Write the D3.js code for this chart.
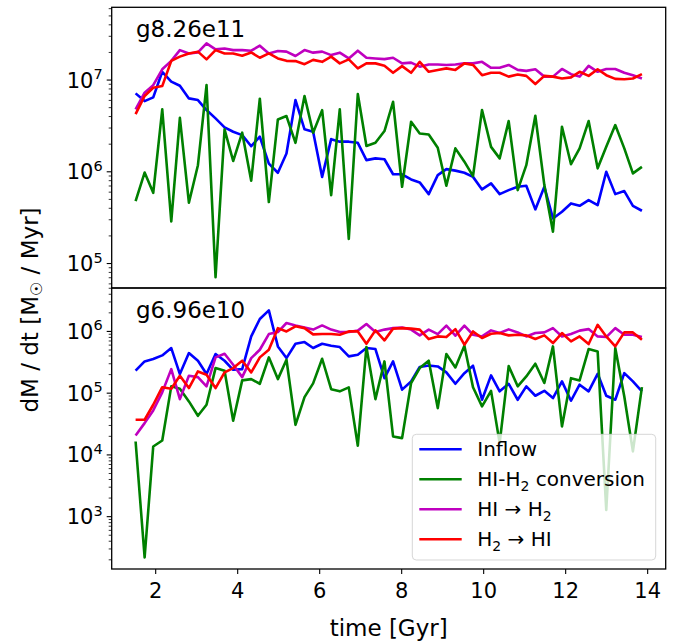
<!DOCTYPE html>
<html><head><meta charset="utf-8">
<script src="https://cdn.jsdelivr.net/npm/d3@7"></script>
<style>body{margin:0;background:#fff}</style>
</head><body><svg id="c" width="678" height="643"></svg>
<script>
const times=[1.51,1.73,1.94,2.16,2.38,2.59,2.81,3.03,3.24,3.46,
3.68,3.89,4.11,4.33,4.54,4.76,4.98,5.19,5.41,5.63,
5.84,6.06,6.28,6.49,6.71,6.93,7.14,7.36,7.58,7.79,
8.01,8.23,8.44,8.66,8.88,9.09,9.31,9.53,9.74,9.96,
10.18,10.39,10.61,10.83,11.04,11.26,11.48,11.69,11.91,12.13,
12.34,12.56,12.78,12.99,13.21,13.43,13.64,13.86];

const panelNames=["g8.26e11","g6.96e10"];
const seriesNames=["Inflow","HI-H2 conversion","HI \u2192 H2","H2 \u2192 HI"];
const seriesColors=["#0000ff","#008000","#bf00bf","#ff0000"];
const xTicks=[2,4,6,8,10,12,14];

const topInflow=[7.16e6,5.9e6,6.47e6,1.23e7,9.6e6,8.67e6,6.31e6,6.05e6,4.71e6,3.82e6,
3.05e6,2.73e6,2.51e6,1.9e6,2.41e6,1.23e6,9.76e5,1.58e6,6.05e6,2.9e6,
2.73e6,8.8e5,2.27e6,2.13e6,2.13e6,2.07e6,1.34e6,1.4e6,1.37e6,9.4e5,
9.4e5,8.26e5,7.66e5,5.71e5,9.2e5,1.07e6,1.03e6,9.76e5,8.8e5,6.42e5,
7.47e5,5.71e5,6.31e5,6.87e5,7.04e5,3.89e5,6.87e5,3.1e5,3.67e5,4.52e5,
4.26e5,4.92e5,4.33e5,1.0e6,5.71e5,6.16e5,4.26e5,3.76e5];
const topConv=[4.79e5,9.8e5,5.9e5,4.79e6,2.88e5,3.88e6,4.6e5,1.18e6,8.8e6,7.1e4,
2.9e6,1.31e6,2.67e6,8.0e5,6.26e6,4.68e5,3.72e6,4.05e6,2.07e6,6.7e6,
2.67e6,4.7e6,5.57e5,4.79e6,1.85e5,7.04e6,1.91e6,2.07e6,2.78e6,5.8e6,
6.87e5,3.51e6,2.62e6,2.55e6,1.83e6,7.04e5,1.8e6,1.29e6,8.98e5,4.71e6,
1.87e6,1.4e6,3.57e6,6.3e5,1.18e6,4.08e6,7.16e5,2.22e5,3.1e6,1.21e6,
1.8e6,3.57e6,1.09e6,1.87e6,3.23e6,1.8e6,9.6e5,1.13e6];
const topHItoH2=[4.79e6,7.28e6,8.8e6,1.31e7,1.62e7,2.12e7,1.95e7,2.0e7,2.51e7,2.16e7,
2.21e7,2.12e7,2.12e7,2.09e7,2.37e7,1.95e7,2.07e7,2.04e7,1.83e7,2.12e7,
1.99e7,2.04e7,1.87e7,1.99e7,1.72e7,2.09e7,1.75e7,1.72e7,1.69e7,1.75e7,
1.52e7,1.55e7,1.40e7,1.48e7,1.48e7,1.46e7,1.48e7,1.52e7,1.52e7,1.58e7,
1.36e7,1.36e7,1.46e7,1.29e7,1.26e7,1.31e7,1.09e7,1.09e7,1.32e7,1.16e7,
1.09e7,1.43e7,1.23e7,1.32e7,1.32e7,1.20e7,1.13e7,1.04e7];
const topH2toHI=[4.26e6,6.7e6,8.25e6,8.6e6,1.62e7,1.80e7,1.95e7,2.04e7,1.68e7,2.12e7,
1.95e7,1.95e7,1.84e7,2.0e7,1.75e7,1.95e7,1.72e7,1.62e7,1.61e7,1.49e7,
1.66e7,1.58e7,1.80e7,1.52e7,1.68e7,1.34e7,1.52e7,1.52e7,1.43e7,1.20e7,
1.42e7,1.20e7,1.58e7,1.23e7,1.29e7,1.34e7,1.29e7,1.52e7,1.46e7,1.13e7,
1.20e7,1.20e7,1.09e7,1.15e7,1.11e7,9.04e6,1.11e7,1.09e7,1.04e7,1.07e7,
1.23e7,1.11e7,1.31e7,1.13e7,1.03e7,1.02e7,1.04e7,1.16e7];

const botInflow=[2.31e5,3.27e5,3.57e5,4.09e5,5.38e5,2.04e5,4.46e5,3.35e5,2.04e5,4.3e5,
3.35e5,2.39e5,2.45e5,8.3e5,1.59e6,2.19e6,5.72e5,3.7e5,6.32e5,6.72e5,
5.38e5,6.32e5,5.87e5,5.58e5,3.94e5,4.19e5,5.38e5,5.18e5,1.75e5,3.27e5,
1.14e5,1.55e5,2.65e5,2.81e5,2.71e5,2.17e5,1.42e5,2.11e5,2.78e5,7.82e4,
1.94e5,1.07e5,1.42e5,7.82e4,1.29e5,9.08e4,1.09e5,8.32e4,1.55e5,7.54e4,
1.37e5,1.07e5,2.06e5,9.08e4,7.82e4,2.11e5,1.55e5,1.07e5];
const botConv=[1.65e4,218,1.37e4,1.71e4,1.29e5,1.18e5,7.35e4,4.3e4,6.49e4,2.55e5,
2.31e5,3.57e4,1.61e5,1.69e5,1.42e5,3.8e5,1.69e5,3.48e5,3.07e4,8.64e4,
1.44e5,3.61e5,1.16e5,1.07e5,1.24e5,1.41e4,5.58e5,8.0e4,3.27e5,1.99e4,
1.87e4,1.46e5,2.55e5,3.35e5,5.73e4,4.3e5,2.61e5,5.87e5,1.25e5,6.1e4,
1.09e5,1.55e4,2.75e5,1.29e5,1.87e5,3.0e5,1.46e5,5.72e5,2.89e4,1.75e5,
1.61e5,5.18e5,4.75e5,1.29e3,5.38e5,8.85e4,1.14e4,1.25e5];
const botHItoH2=[2.07e4,3.27e4,5.25e4,1.03e5,2.45e5,8.0e4,1.91e5,1.82e5,1.29e5,3.8e5,
4.35e5,2.88e5,1.82e5,3.7e5,5.05e5,9.06e5,9.77e5,1.37e6,1.25e6,1.16e6,
1.07e6,1.25e6,1.07e6,9.77e5,9.77e5,1.03e6,1.32e6,9.77e5,1.07e6,1.13e6,
1.16e6,1.07e6,8.63e5,1.07e6,9.06e5,1.24e6,8.52e5,1.24e6,8.84e5,8.3e5,
1.04e6,9.41e5,1.08e6,9.64e5,8.3e5,9.41e5,9.64e5,1.13e6,8.3e5,9.06e5,
1.03e6,1.09e6,8.3e5,8.1e5,1.13e6,8.84e5,8.84e5,8.1e5];
const botH2toHI=[3.71e4,3.71e4,6.49e4,1.25e5,1.18e5,1.91e5,1.21e5,2.25e5,1.99e5,1.21e5,
2.17e5,2.55e5,3.35e5,2.17e5,3.8e5,5.05e5,1.13e6,1.0e6,1.21e6,1.13e6,
8.95e5,9.06e5,9.06e5,8.84e5,1.0e6,1.0e6,6.32e5,1.04e6,7.16e5,1.11e6,
1.13e6,1.11e6,1.07e6,7.52e5,8.3e5,8.1e5,1.09e6,6.09e5,1.0e6,7.81e5,
9.18e5,9.41e5,8.63e5,8.84e5,8.63e5,7.52e5,8.63e5,6.48e5,9.41e5,6.89e5,
8.3e5,6.24e5,1.28e6,8.3e5,5.72e5,9.64e5,9.64e5,7.34e5];

const topYDomain=[5.41e4,6.21e7];
const botYDomain=[142,5.05e6];
const xDomain=[0.927,14.44];

const svg=d3.select("#c");
const FONT="DejaVu Sans, sans-serif";
const L=111.7,R=665.7;
const x=d3.scaleLinear().domain(xDomain).range([L,R]);

const panels=[
 {name:panelNames[0],top:7.3,bot:288,dom:topYDomain,data:[topInflow,topConv,topHItoH2,topH2toHI]},
 {name:panelNames[1],top:288,bot:569,dom:botYDomain,data:[botInflow,botConv,botHItoH2,botH2toHI]}
];

function sup(sel,exp){
  sel.append("tspan").text("10");
  sel.append("tspan").attr("dy",-8.5).attr("font-size",14.5).text(exp);
}

panels.forEach((p,pi)=>{
  const y=d3.scaleLog().domain(p.dom).range([p.bot,p.top]);
  const clipId="clip"+pi;
  svg.append("clipPath").attr("id",clipId).append("rect")
    .attr("x",L).attr("y",p.top).attr("width",R-L).attr("height",p.bot-p.top);
  const g=svg.append("g").attr("clip-path",`url(#${clipId})`);
  const line=d3.line().x((d,i)=>x(times[i])).y(d=>y(d));
  p.data.forEach((s,si)=>{
    g.append("path").datum(s).attr("d",line).attr("fill","none")
      .attr("stroke",seriesColors[si]).attr("stroke-width",2.6)
      .attr("stroke-linejoin","round");
  });
  const lo=Math.floor(Math.log10(p.dom[0])), hi=Math.ceil(Math.log10(p.dom[1]));
  for(let e=lo;e<=hi;e++){
    for(let m=1;m<10;m++){
      const v=m*Math.pow(10,e);
      if(v<p.dom[0]||v>p.dom[1]) continue;
      const yy=y(v);
      svg.append("line").attr("x1",L).attr("x2",L-(m===1?5:3))
        .attr("y1",yy).attr("y2",yy).attr("stroke","#000").attr("stroke-width",m===1?1.1:0.8);
      if(m===1){
        const t=svg.append("text").attr("x",L-9).attr("y",yy+7.5)
          .attr("text-anchor","end").attr("font-family",FONT).attr("font-size",21).attr("fill","#000");
        sup(t,String(e));
      }
    }
  }
  svg.append("rect").attr("x",L).attr("y",p.top).attr("width",R-L).attr("height",p.bot-p.top)
    .attr("fill","none").attr("stroke","#000").attr("stroke-width",1.3);
  svg.append("text").attr("x",136).attr("y",p.top+30).attr("font-family",FONT)
    .attr("font-size",23).attr("fill","#000").text(p.name);
});

const xb=569;
xTicks.forEach(t=>{
  svg.append("line").attr("x1",x(t)).attr("x2",x(t)).attr("y1",xb).attr("y2",xb+5)
    .attr("stroke","#000").attr("stroke-width",1.1);
  svg.append("text").attr("x",x(t)).attr("y",xb+29).attr("text-anchor","middle")
    .attr("font-family",FONT).attr("font-size",21).attr("fill","#000").text(t);
});
svg.append("text").attr("x",(L+R)/2).attr("y",636).attr("text-anchor","middle")
  .attr("font-family",FONT).attr("font-size",23).attr("fill","#000").text("time [Gyr]");

const yl=svg.append("text").attr("transform","translate(38,310) rotate(-90)")
  .attr("text-anchor","middle").attr("font-family",FONT).attr("font-size",23).attr("fill","#000");
yl.append("tspan").text("dM / dt [M");
yl.append("tspan").attr("font-size",16).attr("dy",4).text("\u2609");
yl.append("tspan").attr("dy",-4).text(" / Myr]");

const lg=svg.append("g");
lg.append("rect").attr("x",412.3).attr("y",434.3).attr("width",243.4).attr("height",125.7)
  .attr("rx",4).attr("fill","#fff").attr("fill-opacity",0.8)
  .attr("stroke","#cccccc").attr("stroke-opacity",0.8).attr("stroke-width",1);
const rowY=[449.3,479.3,509.3,539.3];
function labelParts(i){
  if(i===0) return [["Inflow",0]];
  if(i===1) return [["HI-H",0],["2",1],[" conversion",0]];
  if(i===2) return [["HI \u2192 H",0],["2",1]];
  return [["H",0],["2",1],[" \u2192 HI",0]];
}
seriesNames.forEach((n,i)=>{
  lg.append("line").attr("x1",419.3).attr("x2",461.7).attr("y1",rowY[i]).attr("y2",rowY[i])
    .attr("stroke",seriesColors[i]).attr("stroke-width",2.6);
  const t=lg.append("text").attr("x",477.3).attr("y",rowY[i]+7)
    .attr("font-family",FONT).attr("font-size",20).attr("fill","#000");
  let sub=false;
  labelParts(i).forEach(([s,isSub])=>{
    const ts=t.append("tspan").text(s);
    if(isSub&&!sub){ts.attr("dy",5).attr("font-size",14).text(s);sub=true;}
    else if(!isSub&&sub){ts.attr("dy",-5);sub=false;}
  });
});
</script>
</body></html>
